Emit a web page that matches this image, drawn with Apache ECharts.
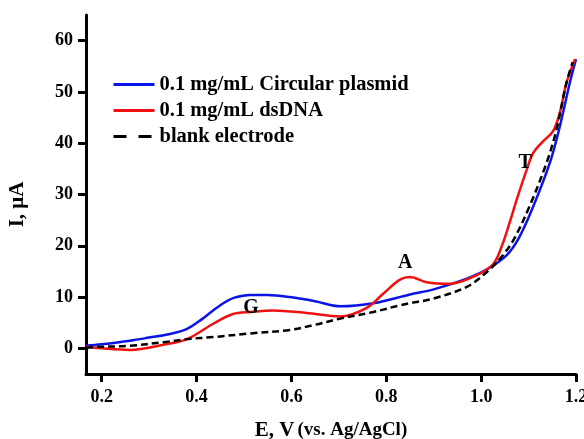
<!DOCTYPE html>
<html>
<head>
<meta charset="utf-8">
<script src="https://cdn.jsdelivr.net/npm/echarts@6/dist/echarts.min.js"></script>
<style>html,body{margin:0;padding:0;background:#fff}#c{width:584px;height:439px}</style>
</head>
<body>
<div id="c"></div>
<script>
const xTicks = [0.2, 0.4, 0.6, 0.8, 1.0, 1.2];
const yTicks = [0, 10, 20, 30, 40, 50, 60];

const plasmidX = [0.167,0.2,0.26,0.3,0.344,0.38,0.41,0.435,0.46,0.48,0.513,0.55,0.597,0.65,0.703,0.773,0.85,0.9,0.97,1.012,1.054,1.08,1.11,1.145,1.166,1.187,1.2];
const plasmidY = [0.5,0.8,1.5,2.1,2.8,3.8,5.6,7.4,9.0,9.9,10.4,10.4,10.0,9.2,8.2,8.8,10.5,11.5,13.6,15.4,18.2,21.6,27.7,36.2,43.3,51.8,56.4];

const dsdnaX = [0.167,0.2,0.26,0.33,0.38,0.435,0.477,0.513,0.561,0.632,0.703,0.759,0.794,0.829,0.85,0.885,0.935,0.991,1.026,1.045,1.06,1.075,1.096,1.11,1.131,1.152,1.166,1.18,1.198];
const dsdnaY = [0.3,0.0,-0.3,0.7,1.8,4.8,6.7,7.1,7.4,6.9,6.2,7.9,10.7,13.4,13.9,12.9,12.6,14.3,16.5,20.3,24.5,29,34.8,38.1,40.4,42.4,46,51.8,56.4];

const blankX = [0.167,0.2,0.26,0.33,0.38,0.435,0.513,0.597,0.65,0.703,0.773,0.829,0.85,0.899,0.97,1.012,1.04,1.068,1.102,1.138,1.159,1.18,1.193];
const blankY = [0.1,0.3,0.5,1.2,1.8,2.2,2.9,3.6,4.6,5.8,7.1,8.4,8.8,9.7,12,14.9,17.5,21.1,27.7,36.2,42.7,51.8,55.8];

const seriesNames = ['0.1 mg/mL Circular plasmid', '0.1 mg/mL dsDNA', 'blank electrode'];
const peakLabels = ['G', 'A', 'T'];
const peakX = [0.515, 0.84, 1.093];
const peakY = [8.0, 16.6, 36.2];

const zip = (xs, ys) => xs.map((x, i) => [x, ys[i]]);
const FONT = '"Liberation Serif", "Times New Roman", serif';

const chart = echarts.init(document.getElementById('c'), null, {renderer: 'canvas'});
chart.setOption({
  backgroundColor: '#ffffff',
  animation: false,
  grid: {left: 86, right: 8, top: 15, bottom: 65, containLabel: false, outerBoundsMode: 'none'},
  legend: {
    orient: 'vertical', left: 107, top: 69, itemWidth: 41, itemHeight: 14, itemGap: 5,
    padding: 5,
    itemStyle: {opacity: 0},
    textStyle: {fontFamily: FONT, fontWeight: 'bold', fontSize: 20.5, color: '#000'},
    data: [
      {name: seriesNames[0], lineStyle: {width: 3}},
      {name: seriesNames[1], lineStyle: {width: 3}},
      {name: seriesNames[2], lineStyle: {type: [13, 12], width: 3}}
    ]
  },
  xAxis: {
    type: 'value', min: 0.167, max: 1.2,
    name: '{a|E, V} {b|(vs. Ag/AgCl)}', nameLocation: 'middle', nameGap: 46,
    nameTextStyle: {fontFamily: FONT, fontWeight: 'bold', color: '#000',
      rich: {a: {fontFamily: FONT, fontWeight: 'bold', fontSize: 21, color: '#000'},
             b: {fontFamily: FONT, fontWeight: 'bold', fontSize: 19, color: '#000'}}},
    axisLine: {show: true, onZero: false, lineStyle: {color: '#000', width: 3}},
    axisTick: {show: true, length: 8, lineStyle: {color: '#000', width: 3}, customValues: xTicks},
    axisLabel: {margin: 14, fontFamily: FONT, fontWeight: 'bold', fontSize: 18, color: '#000',
      customValues: xTicks, formatter: v => v.toFixed(1)},
    splitLine: {show: false}
  },
  yAxis: {
    type: 'value', min: -5, max: 65,
    name: 'I, μA', nameLocation: 'middle', nameGap: 58, nameRotate: 90,
    nameTextStyle: {fontFamily: FONT, fontWeight: 'bold', fontSize: 21, color: '#000', padding: [0, 0, 0, -20]},
    axisLine: {show: true, onZero: false, lineStyle: {color: '#000', width: 3}},
    axisTick: {show: true, length: 8, lineStyle: {color: '#000', width: 3}, customValues: yTicks},
    axisLabel: {margin: 13, fontFamily: FONT, fontWeight: 'bold', fontSize: 18, color: '#000',
      customValues: yTicks},
    splitLine: {show: false}
  },
  series: [
    {
      name: seriesNames[0], type: 'line', data: zip(plasmidX, plasmidY),
      smooth: 0.35, showSymbol: false, symbol: 'none',
      lineStyle: {color: '#0a14e6', width: 2.5}, itemStyle: {color: '#0a14e6'}, z: 3
    },
    {
      name: seriesNames[1], type: 'line', data: zip(dsdnaX, dsdnaY),
      smooth: 0.35, showSymbol: false, symbol: 'none',
      lineStyle: {color: '#f01010', width: 2.5}, itemStyle: {color: '#f01010'}, z: 4,
      markPoint: {
        symbol: 'circle', symbolSize: 0,
        label: {show: true, position: 'inside', formatter: p => p.name,
          fontFamily: FONT, fontWeight: 'bold', fontSize: 20, color: '#000'},
        data: peakLabels.map((n, i) => ({name: n, coord: [peakX[i], peakY[i]]}))
      }
    },
    {
      name: seriesNames[2], type: 'line', data: zip(blankX, blankY),
      smooth: 0.35, showSymbol: false, symbol: 'none',
      lineStyle: {color: '#000', width: 2.5, type: [7, 4]}, itemStyle: {color: '#000'}, z: 5
    }
  ]
});
</script>
</body>
</html>
